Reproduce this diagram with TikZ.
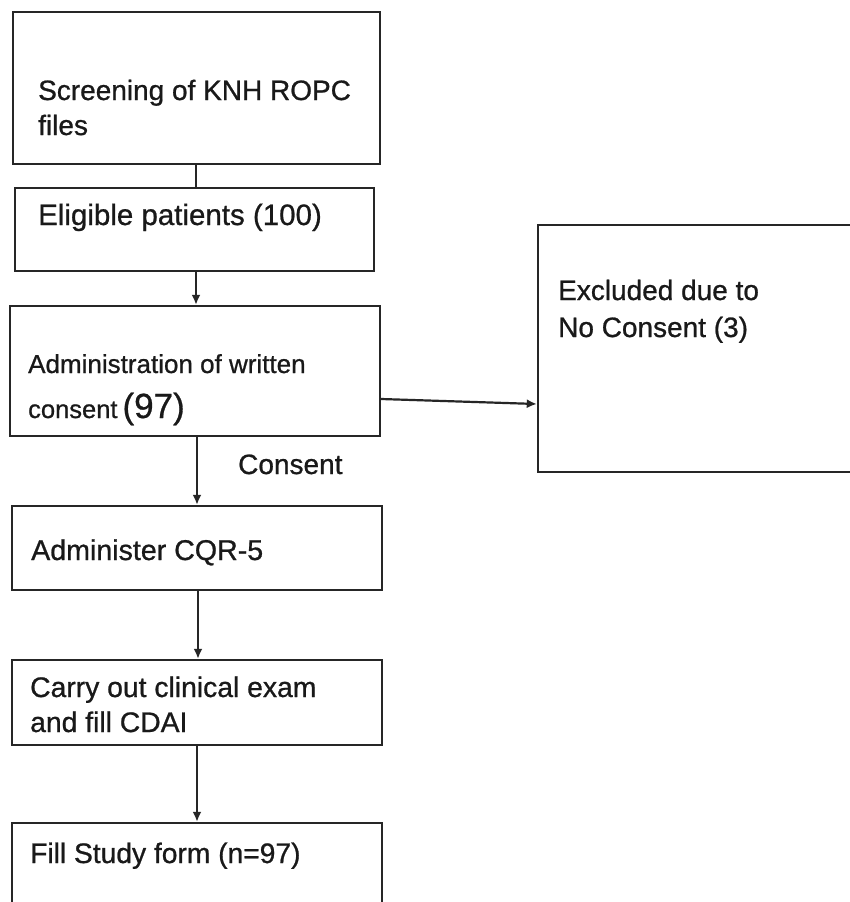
\documentclass[tikz,border=0pt]{standalone}
\usepackage{fontspec}
\setmainfont[FakeBold=0.8]{Liberation Sans}
\usetikzlibrary{arrows.meta}
\begin{document}
\begin{tikzpicture}[x=1pt,y=-1pt,
  box/.style={draw=black!85, line width=2.4pt, inner sep=0pt, fill=none},
  txt/.style={anchor=base west, inner sep=0pt, text=black!90, font=\fontsize{28}{34}\selectfont},
  conn/.style={draw=black!85, line width=2.2pt, -{Latex[length=10pt,width=9pt]}},
  plain/.style={draw=black!85, line width=2.2pt}
]
\useasboundingbox (0,0) rectangle (850,902);
\fill[white] (0,0) rectangle (850,902);
\clip (0,0) rectangle (850,902);

% boxes
\node[box, minimum width=367pt, minimum height=152pt] (b1) at (196.5,88) {};
\node[box, minimum width=359pt, minimum height=83pt]  (b2) at (194.5,229.5) {};
\node[box, minimum width=370pt, minimum height=130pt] (b3) at (195,371) {};
\node[box, minimum width=322pt, minimum height=247pt] (b4) at (699,348.5) {};
\node[box, minimum width=370pt, minimum height=84pt]  (b5) at (197,548) {};
\node[box, minimum width=370pt, minimum height=85pt]  (b6) at (197,702.5) {};
\node[box, minimum width=370pt, minimum height=87pt]  (b7) at (197,866.5) {};

% texts
\node[txt] (t1a) at (38,100) {Screening of KNH ROPC};
\node[txt] (t1b) at (38,135) {files};
\node[txt, font=\fontsize{29.5}{34}\selectfont] (t2) at (38,225) {Eligible patients (100)};
\node[txt, font=\fontsize{26}{30}\selectfont] (t3a) at (28,373) {Administration of written};
\node[txt, font=\fontsize{25.5}{30}\selectfont] (t3b) at (28,418) {consent\hspace{5pt}{\fontsize{35}{36}\selectfont(97)}};
\node[txt] (t4a) at (558,300) {Excluded due to};
\node[txt] (t4b) at (558,337) {No Consent (3)};
\node[txt] (lc) at (238,474) {Consent};
\node[txt, font=\fontsize{28.6}{34}\selectfont] (t5) at (31,560) {Administer CQR-5};
\node[txt, font=\fontsize{28.3}{34}\selectfont] (t6a) at (30,697) {Carry out clinical exam};
\node[txt, font=\fontsize{28.3}{34}\selectfont] (t6b) at (30,732) {and fill CDAI};
\node[txt, font=\fontsize{28.2}{34}\selectfont] (t7) at (30,863) {Fill Study form (n=97)};

% connectors
\coordinate (c1) at (196,164);
\draw[plain] (c1) -- (c1 |- b2.north);
\coordinate (c2) at (196,271);
\draw[conn] (c2) -- (c2 |- b3.north);
\coordinate (c3) at (197,436);
\draw[conn] (c3) -- (c3 |- b5.north);
\coordinate (c4) at (198,590);
\draw[conn] (c4) -- (c4 |- b6.north);
\coordinate (c5) at (197,745);
\draw[conn] (c5) -- (c5 |- b7.north);
\draw[conn] ([yshift=-28pt]b3.east) -- ([yshift=-55.5pt]b4.west);
\end{tikzpicture}
\end{document}
